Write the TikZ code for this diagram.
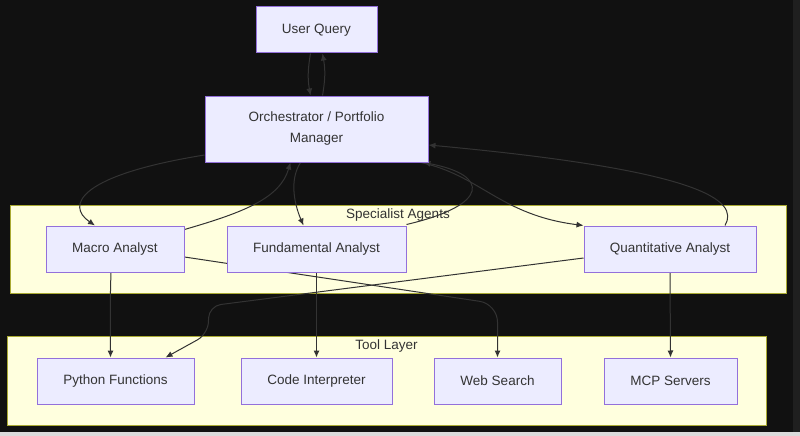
\documentclass[tikz,border=0pt]{standalone}
\usepackage{fontspec}
\setmainfont{Liberation Sans}
\usetikzlibrary{arrows.meta}

\definecolor{nodefill}{HTML}{ECECFF}
\definecolor{nodeline}{HTML}{9370DB}
\definecolor{clusterfill}{HTML}{FFFFDE}
\definecolor{clusterline}{HTML}{AAAA33}
\definecolor{edgegray}{HTML}{333333}
\definecolor{textgray}{HTML}{333333}
\definecolor{darkbg}{HTML}{111111}

\pgfdeclarelayer{bg}
\pgfdeclarelayer{edges}
\pgfsetlayers{bg,edges,main}

\begin{document}
\begin{tikzpicture}[x=1pt, y=-1pt]

      \tikzset{agent/.style = {shape=rectangle, draw=nodeline, fill=nodefill, line width=1pt,
          inner sep=0pt, minimum height=46pt, text=textgray,
          font=\fontsize{13.5}{21}\selectfont}}
      \tikzset{cluster/.style = {shape=rectangle, draw=clusterline, fill=clusterfill, line width=1pt, inner sep=0pt}}
      \tikzset{clabel/.style = {text=textgray, inner sep=0pt, font=\fontsize{13.5}{16}\selectfont}}
      \tikzset{edge/.style = {->, > = {Latex[length=7pt,width=6pt]}, line width=1pt, draw=edgegray}}

      % canvas
      \begin{pgfonlayer}{bg}
      \fill[darkbg] (0,0) rectangle (800,436);
      \fill[black!88] (793,0) rectangle (800,432);
      \fill[black!14] (0,432) rectangle (800,436);
      \node[cluster, minimum width=776pt, minimum height=88pt] (agents) at (398,249) {};
      \node[cluster, minimum width=759pt, minimum height=89pt] (tools) at (386.5,380.5) {};
      \end{pgfonlayer}
      \useasboundingbox (0,0) rectangle (800,436);

      % group labels
      \node[clabel] (agentslbl) at (398,215) {Specialist Agents};
      \node[clabel] (toolslbl) at (386.5,346) {Tool Layer};

      % vertices
      \node[agent, minimum width=121pt] (uq) at (316.5,30) {User Query};
      \node[agent, minimum width=223pt, minimum height=66pt, align=center] (orch) at (316.5,129)
          {Orchestrator / Portfolio\\Manager};
      \node[agent, minimum width=138pt] (macro) at (115,249) {Macro Analyst};
      \node[agent, minimum width=179pt] (fund) at (316.5,249) {Fundamental Analyst};
      \node[agent, minimum width=172pt] (quant) at (670,249) {Quantitative Analyst};
      \node[agent, minimum width=157pt] (python) at (115.5,381) {Python Functions};
      \node[agent, minimum width=151pt] (code) at (316.5,381) {Code Interpreter};
      \node[agent, minimum width=127pt] (web) at (497.5,381) {Web Search};
      \node[agent, minimum width=133pt] (mcp) at (670.5,381) {MCP Servers};

      %edges
      \begin{pgfonlayer}{edges}
      \draw[edge] ([xshift=-6pt]uq.south) to[bend right=10] ([xshift=-6pt]orch.north);
      \draw[edge] ([xshift=6pt]orch.north) to[bend right=10] ([xshift=6pt]uq.south);

      \draw[edge] ([yshift=-26pt]orch.west) .. controls (80,175) and (65,205) .. ([xshift=-20pt]macro.north);
      \draw[edge] ([yshift=-4pt]macro.north east) .. controls (245,212) and (280,198) .. ([xshift=-26pt]orch.south);
      \draw[edge] ([xshift=-16pt]orch.south) .. controls (288,182) and (296,208) .. ([xshift=-13pt]fund.north);
      \draw[edge] ([yshift=1pt]fund.north east) .. controls (490,205) and (490,175) .. ([xshift=-5pt]orch.south east);
      \draw[edge] ([xshift=-8pt]orch.south east) .. controls (480,175) and (500,215) .. (quant.north west);
      \draw[edge] ([xshift=55pt]quant.north) .. controls (740,200) and (700,170) .. ([yshift=-16pt]orch.east);

      \draw[edge] ([xshift=-4pt]macro.south) to[out=-92, in=90] ([xshift=-5pt]python.north);
      \draw[edge] (fund.south) -- (code.north);
      \draw[edge] (quant.south) -- (mcp.north);
      \draw[edge, rounded corners=18pt] ([yshift=-8pt]macro.east) -- (497.5,304) -- (web.north);
      \draw[edge, rounded corners=12pt] ([yshift=-9pt]quant.west) -- (209,306) -- (208,334) -- ([xshift=50pt]python.north);
      \end{pgfonlayer}

\end{tikzpicture}
\end{document}
